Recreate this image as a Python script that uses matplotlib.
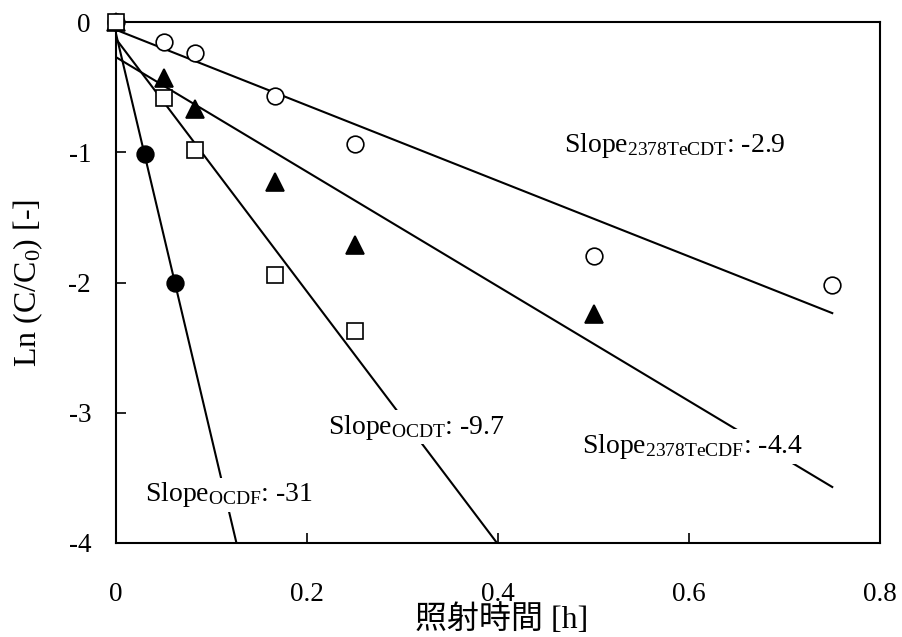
import numpy as np
import matplotlib
matplotlib.use('Agg')
import matplotlib.pyplot as plt

plt.rcParams['font.family'] = ['Liberation Serif', 'Noto Sans CJK JP']
plt.rcParams['mathtext.fontset'] = 'custom'
plt.rcParams['mathtext.rm'] = 'Liberation Serif'
plt.rcParams['mathtext.it'] = 'Liberation Serif:italic'
plt.rcParams['axes.unicode_minus'] = False

# irradiation time [h] and ln(C/C0) for each congener
t_tecdt = [0, 0.05, 0.083, 0.167, 0.25, 0.5, 0.75]
ln_tecdt = [0, -0.15, -0.24, -0.57, -0.94, -1.80, -2.02]

t_tecdf = [0, 0.05, 0.083, 0.167, 0.25, 0.5]
ln_tecdf = [0, -0.43, -0.67, -1.23, -1.71, -2.24]

t_ocdt = [0, 0.05, 0.083, 0.167, 0.25]
ln_ocdt = [0, -0.58, -0.98, -1.94, -2.37]

t_ocdf = [0.03, 0.062]
ln_ocdf = [-1.01, -2.0]

# fitted first-order lines: (slope, intercept)
slope_tecdt, icpt_tecdt = -2.9, -0.06
slope_tecdf, icpt_tecdf = -4.4, -0.27
slope_ocdt, icpt_ocdt = -9.7, -0.13
slope_ocdf, icpt_ocdf = -31, -0.09

fig = plt.figure(figsize=(9.02, 6.37), dpi=100)
ax = fig.add_axes([116 / 902, 1 - 543 / 637, 764 / 902, 521 / 637])

x_fit = np.array([0, 0.75])
for s, b in [(slope_tecdt, icpt_tecdt), (slope_tecdf, icpt_tecdf),
             (slope_ocdt, icpt_ocdt), (slope_ocdf, icpt_ocdf)]:
    ax.plot(x_fit, b + s * x_fit, color='black', linewidth=1.5, zorder=2)

mk = dict(linestyle='none', markeredgewidth=1.2,
          markeredgecolor='black', zorder=4, clip_on=False)
ax.plot(t_tecdt, ln_tecdt, marker='o', markerfacecolor='white', markersize=12, **mk)
ax.plot(t_tecdf, ln_tecdf, marker='^', markerfacecolor='black', markersize=13, **mk)
ax.plot(t_ocdf, ln_ocdf, marker='o', markerfacecolor='black', markersize=12, **mk)
ax.plot(t_ocdt, ln_ocdt, marker='s', markerfacecolor='white', markersize=12, **mk)

box = dict(facecolor='white', edgecolor='none', pad=2)
lbl = dict(fontsize=20, ha='left', va='baseline', bbox=box, zorder=3)
ax.text(0.469, -1.0, r'Slope$_{\mathrm{2378TeCDT}}$: ' + f'{slope_tecdt}', **lbl)
ax.text(0.488, -3.31, r'Slope$_{\mathrm{2378TeCDF}}$: ' + f'{slope_tecdf}', **lbl)
ax.text(0.222, -3.16, r'Slope$_{\mathrm{OCDT}}$: ' + f'{slope_ocdt}', **lbl)
ax.text(0.0306, -3.68, r'Slope$_{\mathrm{OCDF}}$: ' + f'{slope_ocdf}', **lbl)

ax.set_xlim(0, 0.8)
ax.set_ylim(-4, 0)
ax.set_xticks([0, 0.2, 0.4, 0.6, 0.8])
ax.set_xticklabels(['0', '0.2', '0.4', '0.6', '0.8'])
ax.set_yticks([0, -1, -2, -3, -4])
ax.tick_params(direction='in', length=7, width=1.2, labelsize=19.5)
ax.tick_params(axis='x', pad=28)
ax.tick_params(axis='y', pad=18)
for sp in ax.spines.values():
    sp.set_linewidth(1.5)

ax.set_xlabel('照射時間 [h]', fontsize=23)
ax.xaxis.set_label_coords(0.505, -0.118)
ax.set_ylabel('Ln (C/C$_0$) [-]', fontsize=23)
ax.yaxis.set_label_coords(-0.093, 0.5)

fig.savefig('out.png', dpi=100)
